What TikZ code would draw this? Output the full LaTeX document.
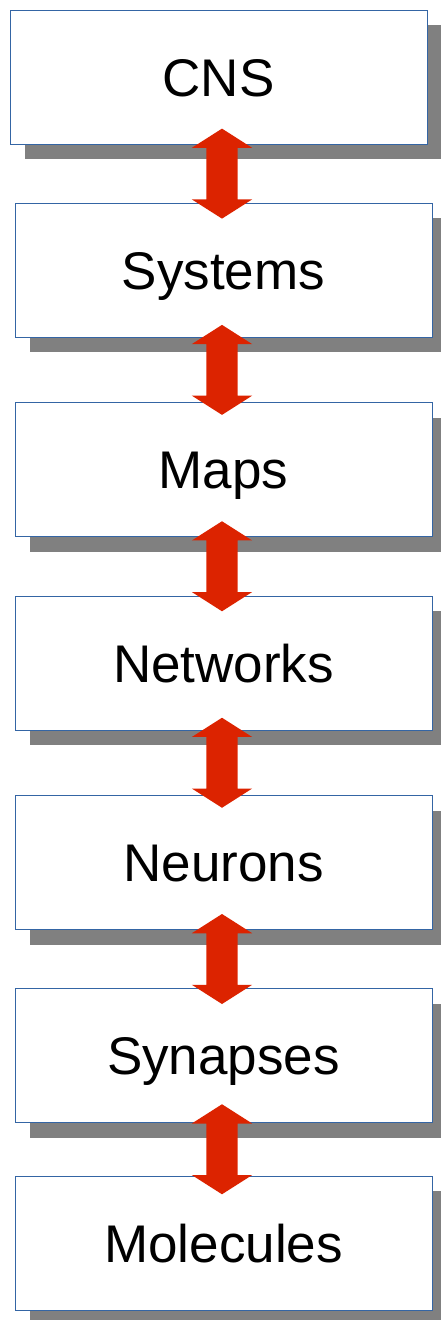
\documentclass[tikz,border=0pt]{standalone}
\usepackage{fontspec}
\setmainfont{Liberation Sans}
\usetikzlibrary{shapes.arrows, shadows, calc}
\definecolor{boxblue}{HTML}{3465A4}
\definecolor{arrowred}{HTML}{DC2300}
\definecolor{shadowgray}{HTML}{808080}

\begin{document}
\begin{tikzpicture}[x=1pt, y=-1pt,
  level/.style={rectangle, draw=boxblue, line width=0.8pt, fill=white,
    minimum width=417pt, minimum height=134pt, inner sep=0pt,
    font=\fontsize{53}{63}\selectfont, text height=38pt, text depth=0pt,
    drop shadow={shadow xshift=15pt, shadow yshift=-15pt, fill=shadowgray, opacity=1}},
  link/.style={double arrow, fill=arrowred, rotate=90, inner sep=0pt,
    text width=0pt, text height=15.5pt, text depth=15.5pt,
    minimum height=90pt, minimum width=60pt,
    double arrow head extend=14.5pt, double arrow tip angle=115,
    double arrow head indent=0pt}]
\useasboundingbox (0,0) rectangle (441,1320);
% levels, top to bottom
\foreach \name/\x/\y/\word in {b1/218.5/77/CNS, b2/223.5/270.25/Systems,
    b3/223.5/469.5/Maps, b4/223.5/663/Networks, b5/223.5/862.5/Neurons,
    b6/223.5/1055.5/Synapses, b7/223.5/1243/Molecules}
  \node[level] (\name) at (\x,\y) {\word};
% two-way arrows between neighbouring levels
\foreach \a/\b in {b1/b2, b2/b3, b3/b4, b4/b5, b5/b6, b6/b7}
  \path let \p1 = ($(\a.south)!.5!(\b.north)$) in
    node[link] (\a\b) at (222pt,\y1) {};
\end{tikzpicture}
\end{document}
